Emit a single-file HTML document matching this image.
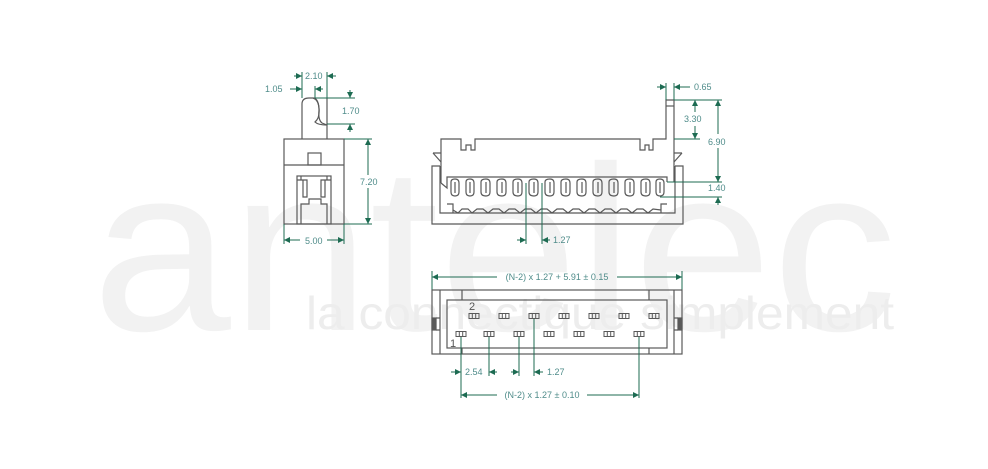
<!DOCTYPE html>
<html><head><meta charset="utf-8"><style>
html,body{margin:0;padding:0;background:#fff}
svg{display:block}
.l{stroke:#595959;stroke-width:1.2;fill:none}
.d{stroke:#1d6b52;stroke-width:1;fill:none}
.t{font-family:"Liberation Sans",sans-serif;font-size:9px;fill:#4f8c8a}
</style></head><body>
<svg width="988" height="469" viewBox="0 0 988 469" xmlns="http://www.w3.org/2000/svg">
<defs>
<marker id="ar" viewBox="0 0 10 10" refX="10" refY="5" markerWidth="7" markerHeight="6" orient="auto-start-reverse" markerUnits="userSpaceOnUse"><path d="M0,0 L10,5 L0,10 z" fill="#1d6b52"/></marker>
<g id="p" fill="none" stroke="#595959" stroke-width="1"><rect x="-5" y="-2.5" width="10" height="5"/><path d="M-1.7,-2.5 V2.5 M1.7,-2.5 V2.5"/></g>
</defs>
<!-- watermark -->
<text x="92" y="330" font-family="Liberation Sans, sans-serif" font-size="235" fill="#f2f2f2" textLength="805" lengthAdjust="spacingAndGlyphs">antelec</text>
<text x="306" y="329" font-family="Liberation Sans, sans-serif" font-size="46" fill="#ededed" textLength="588" lengthAdjust="spacingAndGlyphs">la connectique simplement</text>

<!-- LEFT VIEW -->
<g class="l">
<path d="M302,139 V104 Q302,98 309,98 H313 Q318,98 319,108 Q320,118 315,122 Q318,125 327,125 M327,98 V139"/>
<path d="M313,98 Q319,100 319,110 Q318,120 322,123 L327,125"/>
<rect x="284" y="139" width="60" height="85"/>
<line x1="284" y1="165" x2="344" y2="165"/>
<rect x="308" y="153" width="13" height="12"/>
<rect x="297" y="176" width="34" height="48"/>
<path d="M301,224 V204 H309 V199 H321 V204 H327 V224"/>
<path d="M297,180 H303 V197 H307 V180 H302 M331,180 H325 V197 H321 V180 H326"/>
<path d="M301,176 V180 M327,176 V180"/>
</g>
<g class="d">
<line x1="302" y1="72" x2="302" y2="98"/><line x1="327" y1="72" x2="327" y2="98"/>
<line x1="294" y1="76" x2="302" y2="76" marker-end="url(#ar)"/>
<line x1="336" y1="76" x2="327" y2="76" marker-end="url(#ar)"/>
<line x1="315" y1="86" x2="315" y2="98"/>
<line x1="290" y1="89" x2="302" y2="89" marker-end="url(#ar)"/>
<line x1="323" y1="89" x2="315" y2="89" marker-end="url(#ar)"/>
<line x1="315" y1="98" x2="355" y2="98"/><line x1="327" y1="124" x2="355" y2="124"/>
<line x1="350" y1="90" x2="350" y2="98" marker-end="url(#ar)"/>
<line x1="350" y1="132" x2="350" y2="124" marker-end="url(#ar)"/>
<line x1="344" y1="139" x2="372" y2="139"/><line x1="344" y1="224" x2="372" y2="224"/>
<line x1="368" y1="175" x2="368" y2="139" marker-end="url(#ar)"/>
<line x1="368" y1="188" x2="368" y2="224" marker-end="url(#ar)"/>
<line x1="284" y1="224" x2="284" y2="244"/><line x1="344" y1="224" x2="344" y2="244"/>
<line x1="300" y1="240" x2="284" y2="240" marker-end="url(#ar)"/>
<line x1="327" y1="240" x2="344" y2="240" marker-end="url(#ar)"/>
</g>
<text class="t" x="305" y="79">2.10</text>
<text class="t" x="265" y="92">1.05</text>
<text class="t" x="342" y="114">1.70</text>
<text class="t" x="360" y="185">7.20</text>
<text class="t" x="305" y="244">5.00</text>

<!-- FRONT VIEW -->
<g class="l">
<path d="M440,224 H432 V166 H440 M675,166 H683 V224 H440"/>
<path d="M440,166 V213 H675 V166"/>
<path d="M441,183 V139 H461 V150 H466 V145 H471 V150 H475 V139 H640 V150 H645 V145 H649 V150 H653 V139 H666 V100 H674 V182"/>
<line x1="666" y1="106" x2="674" y2="106"/>
<path d="M433,153 H441 M433,153 L441,162"/>
<path d="M682,153 H674 M682,153 L674,162"/>
<path d="M441,183 L447,188 V177 H667 V182"/>
<path d="M447,204 H453 V213"/>
<path d="M667,204 H661 V213"/>
</g>
<g class="l" stroke-width="1">
<path d="M451,182 Q451,179 455,179 Q459,179 459,183 V192 Q459,196 455,196 Q451,196 451,192 Z M455,182 V193"/>
<path d="M466,182 Q466,179 470,179 Q474,179 474,183 V192 Q474,196 470,196 Q466,196 466,192 Z M470,182 V193"/>
<path d="M481,182 Q481,179 486,179 Q490,179 490,183 V192 Q490,196 486,196 Q481,196 481,192 Z M486,182 V193"/>
<path d="M497,182 Q497,179 502,179 Q506,179 506,183 V192 Q506,196 502,196 Q497,196 497,192 Z M502,182 V193"/>
<path d="M513,182 Q513,179 518,179 Q522,179 522,183 V192 Q522,196 518,196 Q513,196 513,192 Z M518,182 V193"/>
<path d="M529,182 Q529,179 534,179 Q538,179 538,183 V192 Q538,196 534,196 Q529,196 529,192 Z M534,182 V193"/>
<path d="M545,182 Q545,179 550,179 Q554,179 554,183 V192 Q554,196 550,196 Q545,196 545,192 Z M550,182 V193"/>
<path d="M561,182 Q561,179 566,179 Q570,179 570,183 V192 Q570,196 566,196 Q561,196 561,192 Z M566,182 V193"/>
<path d="M577,182 Q577,179 582,179 Q586,179 586,183 V192 Q586,196 582,196 Q577,196 577,192 Z M582,182 V193"/>
<path d="M593,182 Q593,179 598,179 Q602,179 602,183 V192 Q602,196 598,196 Q593,196 593,192 Z M598,182 V193"/>
<path d="M609,182 Q609,179 614,179 Q618,179 618,183 V192 Q618,196 614,196 Q609,196 609,192 Z M614,182 V193"/>
<path d="M625,182 Q625,179 630,179 Q634,179 634,183 V192 Q634,196 630,196 Q625,196 625,192 Z M630,182 V193"/>
<path d="M641,182 Q641,179 646,179 Q650,179 650,183 V192 Q650,196 646,196 Q641,196 641,192 Z M646,182 V193"/>
<path d="M656,182 Q656,179 660,179 Q664,179 664,183 V192 Q664,196 660,196 Q656,196 656,192 Z M660,182 V193"/>
<path d="M453,210 L458,213 L462,209 H468 L472,213 L477,209 H483 L488,213 L493,209 H499 L504,213 L509,209 H515 L520,213 L525,209 H531 L536,213 L541,209 H547 L552,213 L557,209 H563 L568,213 L573,209 H579 L584,213 L589,209 H595 L600,213 L605,209 H611 L616,213 L621,209 H627 L632,213 L637,209 H643 L648,213 L653,209 L661,210"/>
</g>
<g class="d">
<line x1="666" y1="83" x2="666" y2="100"/><line x1="674" y1="83" x2="674" y2="100"/>
<line x1="657" y1="87" x2="666" y2="87" marker-end="url(#ar)"/>
<line x1="690" y1="87" x2="674" y2="87" marker-end="url(#ar)"/>
<line x1="674" y1="100" x2="722" y2="100"/><line x1="674" y1="139" x2="700" y2="139"/>
<line x1="695" y1="112" x2="695" y2="100" marker-end="url(#ar)"/>
<line x1="695" y1="126" x2="695" y2="139" marker-end="url(#ar)"/>
<line x1="718" y1="134" x2="718" y2="100" marker-end="url(#ar)"/>
<line x1="718" y1="148" x2="718" y2="182" marker-end="url(#ar)"/>
<line x1="667" y1="182" x2="722" y2="182"/><line x1="660" y1="197" x2="722" y2="197"/>
<line x1="718" y1="205" x2="718" y2="197" marker-end="url(#ar)"/>
<line x1="526" y1="183" x2="526" y2="244"/><line x1="542" y1="183" x2="542" y2="244"/>
<line x1="517" y1="240" x2="526" y2="240" marker-end="url(#ar)"/>
<line x1="550" y1="240" x2="542" y2="240" marker-end="url(#ar)"/>
</g>
<text class="t" x="694" y="90">0.65</text>
<text class="t" x="684" y="122">3.30</text>
<text class="t" x="708" y="145">6.90</text>
<text class="t" x="708" y="191">1.40</text>
<text class="t" x="553" y="243">1.27</text>

<!-- BOTTOM VIEW -->
<g class="d">
<line x1="432" y1="271" x2="432" y2="290"/><line x1="682" y1="271" x2="682" y2="290"/>
<line x1="497" y1="277" x2="432" y2="277" marker-end="url(#ar)"/>
<line x1="617" y1="277" x2="682" y2="277" marker-end="url(#ar)"/>
</g>
<text class="t" x="557" y="280" text-anchor="middle">(N-2) x 1.27 + 5.91 ± 0.15</text>
<g class="l">
<rect x="432" y="290" width="250" height="64"/>
<line x1="440" y1="290" x2="440" y2="354"/><line x1="674" y1="290" x2="674" y2="354"/>
<rect x="447" y="300" width="220" height="48"/>
<path d="M462,290 V300 M649,290 V300 M462,348 V354 M649,348 V354"/>
<rect x="432" y="318" width="4" height="12" fill="#595959"/>
<rect x="678" y="318" width="4" height="12" fill="#595959"/>
<path d="M436,318 H440 M436,330 H440 M678,318 H674 M678,330 H674"/>
</g>
<use href="#p" x="474" y="316"/><use href="#p" x="504" y="316"/><use href="#p" x="534" y="316"/><use href="#p" x="564" y="316"/><use href="#p" x="594" y="316"/><use href="#p" x="624" y="316"/><use href="#p" x="654" y="316"/>
<use href="#p" x="461" y="334"/><use href="#p" x="489" y="334"/><use href="#p" x="519" y="334"/><use href="#p" x="549" y="334"/><use href="#p" x="579" y="334"/><use href="#p" x="609" y="334"/><use href="#p" x="639" y="334"/>
<text x="469" y="310" font-family="Liberation Sans, sans-serif" font-size="11" fill="#555">2</text>
<text x="450" y="347" font-family="Liberation Sans, sans-serif" font-size="11" fill="#555">1</text>
<g class="d">
<line x1="461" y1="337" x2="461" y2="398"/><line x1="489" y1="337" x2="489" y2="376"/>
<line x1="519" y1="337" x2="519" y2="376"/><line x1="534" y1="319" x2="534" y2="376"/>
<line x1="639" y1="337" x2="639" y2="398"/>
<line x1="451" y1="372" x2="461" y2="372" marker-end="url(#ar)"/>
<line x1="497" y1="372" x2="489" y2="372" marker-end="url(#ar)"/>
<line x1="511" y1="372" x2="519" y2="372" marker-end="url(#ar)"/>
<line x1="543" y1="372" x2="534" y2="372" marker-end="url(#ar)"/>
<line x1="497" y1="395" x2="461" y2="395" marker-end="url(#ar)"/>
<line x1="587" y1="395" x2="639" y2="395" marker-end="url(#ar)"/>
</g>
<text class="t" x="465" y="375">2.54</text>
<text class="t" x="547" y="375">1.27</text>
<text class="t" x="542" y="398" text-anchor="middle">(N-2) x 1.27 ± 0.10</text>
</svg>
</body></html>
